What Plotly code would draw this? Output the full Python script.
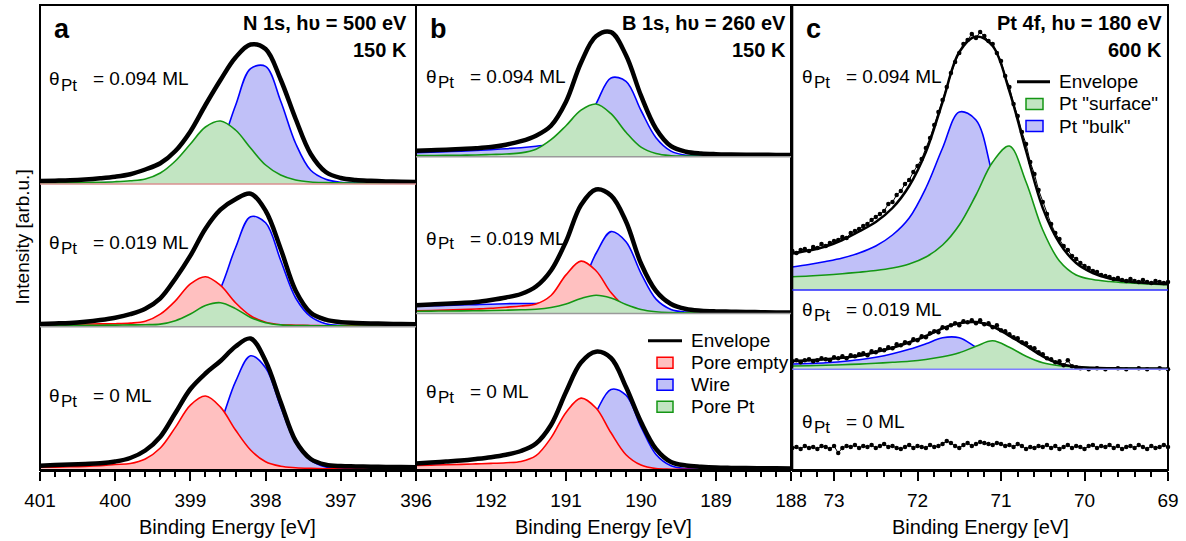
import plotly.graph_objects as go

W, H = 1186, 541
FONT = "Liberation Sans, Arial, sans-serif"

# ---------------- data (intensities, arb. units) ----------------
a_energy = [401.0, 400.8, 400.6, 400.4, 400.2, 400.0, 399.8, 399.6, 399.4, 399.2, 399.0, 398.8, 398.6,
            398.4, 398.2, 398.0, 397.8, 397.6, 397.4, 397.2, 397.0, 396.8, 396.6, 396.4, 396.2, 396.0]
a_top_env = [3.0, 3.3, 3.7, 4.5, 5.7, 7.3, 9.8, 14.5, 20.7, 33.0, 52.6, 79.0, 104.0,
             126.5, 139.5, 135.0, 104.5, 65.0, 30.0, 12.0, 6.0, 4.0, 3.2, 2.6, 2.2, 2.0]
a_top_wire = [1.0, 1.0, 1.1, 1.2, 1.3, 1.4, 1.5, 1.6, 1.7, 1.8, 4.2, 12.0, 37.0,
              78.5, 115.4, 117.6, 83.0, 40.5, 13.7, 4.7, 1.7, 1.2, 1.0, 0.9, 0.8, 0.8]
a_top_porept = [1.0, 1.1, 1.3, 1.5, 1.8, 2.3, 3.2, 5.0, 11.0, 23.0, 40.0, 57.0, 63.0,
                54.0, 36.0, 19.0, 9.0, 4.0, 2.0, 1.4, 1.1, 0.9, 0.8, 0.7, 0.6, 0.5]
a_mid_env = [2.7, 3.2, 3.8, 5.0, 6.7, 9.0, 12.5, 18.0, 28.4, 48.0, 71.0, 98.0, 117.0,
             127.5, 133.0, 116.0, 78.0, 36.0, 14.0, 7.0, 4.5, 3.8, 3.3, 2.9, 2.6, 2.4]
a_mid_empty = [2.4, 2.5, 2.6, 2.7, 2.8, 3.0, 3.6, 5.4, 12.5, 25.8, 42.8, 50.0, 41.3,
               24.0, 11.0, 4.5, 2.0, 1.5, 1.2, 1.0, 0.9, 0.8, 0.7, 0.6, 0.5, 0.5]
a_mid_wire = [1.0, 1.0, 1.1, 1.2, 1.3, 1.4, 1.5, 1.6, 1.7, 1.8, 4.3, 12.6, 38.4,
              79.0, 110.0, 104.0, 66.5, 28.7, 10.0, 3.0, 1.2, 1.0, 0.9, 0.8, 0.8, 0.8]
a_mid_porept = [1.1, 1.2, 1.3, 1.4, 1.5, 1.6, 1.8, 2.0, 2.6, 6.0, 12.7, 21.2, 24.0,
                18.1, 9.3, 4.0, 1.8, 1.2, 1.0, 0.9, 0.8, 0.7, 0.6, 0.5, 0.5, 0.5]
a_bot_env = [4.3, 4.9, 5.4, 6.0, 6.7, 8.5, 12.0, 19.5, 33.3, 57.0, 81.0, 96.5, 109.0,
             123.5, 131.5, 109.0, 68.0, 29.0, 11.0, 5.3, 3.9, 3.6, 3.3, 3.1, 2.9, 2.7]
a_bot_empty = [2.7, 2.9, 3.2, 3.6, 4.3, 5.5, 6.5, 11.0, 22.0, 42.6, 64.9, 74.0, 62.9,
               40.0, 20.0, 8.2, 3.8, 2.3, 1.6, 1.2, 1.0, 0.9, 0.8, 0.7, 0.6, 0.6]
a_bot_wire = [1.0, 1.1, 1.2, 1.3, 1.4, 1.5, 1.6, 1.7, 1.9, 2.3, 6.0, 17.5, 47.2,
              88.3, 114.2, 102.2, 63.3, 27.1, 9.7, 3.0, 1.5, 1.1, 1.0, 0.9, 0.8, 0.8]

b_energy = [193.0, 192.8, 192.6, 192.4, 192.2, 192.0, 191.8, 191.6, 191.4, 191.2, 191.0, 190.8, 190.6,
            190.4, 190.2, 190.0, 189.8, 189.6, 189.4, 189.2, 189.0, 188.8, 188.6, 188.4, 188.2, 188.0]
b_top_env = [6.0, 6.5, 7.0, 7.7, 8.4, 9.6, 12.0, 15.5, 21.0, 31.0, 55.0, 94.0, 120.5,
             124.5, 101.5, 61.0, 28.0, 10.5, 5.0, 3.2, 2.5, 2.2, 2.0, 1.9, 1.8, 1.7]
b_top_wire = [4.0, 4.5, 5.0, 5.5, 6.2, 7.0, 8.0, 9.0, 10.5, 12.5, 17.0, 27.0, 52.9,
              78.8, 75.4, 46.2, 19.0, 5.6, 1.5, 1.0, 0.8, 0.7, 0.6, 0.5, 0.5, 0.5]
b_top_porept = [1.1, 1.2, 1.3, 1.5, 1.7, 2.2, 2.7, 3.8, 7.5, 17.0, 31.0, 46.5, 52.7,
                43.0, 24.4, 9.5, 3.1, 1.0, 0.7, 0.6, 0.5, 0.5, 0.5, 0.5, 0.5, 0.5]
b_mid_env = [8.3, 9.0, 9.7, 10.5, 11.5, 13.5, 16.0, 19.5, 27.0, 43.0, 72.0, 108.5, 124.0,
             118.0, 92.0, 50.0, 22.5, 9.5, 4.5, 2.8, 2.1, 1.8, 1.5, 1.3, 1.1, 1.0]
b_mid_empty = [2.7, 3.0, 3.4, 3.9, 4.5, 5.2, 6.3, 7.5, 9.5, 18.0, 38.6, 52.4, 42.8,
               20.9, 6.2, 1.5, 0.8, 0.6, 0.5, 0.4, 0.4, 0.4, 0.4, 0.4, 0.4, 0.4]
b_mid_wire = [7.3, 7.7, 8.1, 8.5, 8.9, 9.3, 9.8, 10.0, 10.0, 11.0, 14.0, 28.2, 60.0,
              81.9, 71.7, 40.2, 14.4, 4.1, 1.5, 1.0, 0.8, 0.7, 0.6, 0.5, 0.5, 0.5]
b_mid_porept = [2.3, 2.4, 2.5, 2.6, 2.8, 3.0, 3.3, 3.7, 4.3, 6.0, 9.5, 15.0, 18.3,
                15.5, 9.0, 4.0, 1.8, 1.0, 0.7, 0.6, 0.5, 0.5, 0.5, 0.5, 0.5, 0.5]
b_bot_env = [6.6, 7.5, 8.5, 9.5, 11.0, 12.8, 15.3, 19.0, 26.5, 45.0, 78.0, 107.5, 118.3,
             112.0, 83.0, 48.0, 21.0, 8.0, 4.5, 3.2, 2.4, 2.1, 1.9, 1.8, 1.7, 1.6]
b_bot_empty = [4.6, 4.9, 5.2, 5.6, 6.1, 6.6, 7.3, 8.5, 14.3, 32.1, 57.6, 71.9, 62.0,
               37.2, 15.3, 4.9, 1.4, 0.8, 0.6, 0.5, 0.4, 0.4, 0.4, 0.4, 0.4, 0.4]
b_bot_wire = [4.4, 4.6, 4.8, 5.0, 5.3, 5.6, 6.0, 6.5, 7.5, 9.0, 12.0, 28.0, 57.8,
              80.6, 74.8, 43.2, 15.5, 4.2, 1.4, 0.9, 0.7, 0.6, 0.5, 0.5, 0.5, 0.5]

c_energy = [73.5, 73.3, 73.1, 72.9, 72.7, 72.5, 72.3, 72.1, 71.9, 71.7, 71.5, 71.3,
            71.1, 70.9, 70.7, 70.5, 70.3, 70.1, 69.9, 69.7, 69.5, 69.3, 69.1, 69.0]
c_top_env = [36.5, 39.5, 43.5, 50.0, 58.5, 68.0, 82.0, 104.0, 138.0, 188.0, 238.0, 253.5,
             244.0, 199.0, 139.0, 82.0, 47.0, 27.0, 17.0, 11.5, 8.8, 7.3, 6.3, 6.0]
c_top_bulk = [23.0, 25.5, 28.5, 32.0, 37.0, 44.0, 55.0, 72.0, 102.0, 142.0, 178.0, 170.0,
              115.0, 62.0, 30.0, 16.0, 9.0, 6.0, 4.5, 3.5, 3.0, 2.5, 2.2, 2.0]
c_top_surface = [13.3, 14.0, 15.0, 16.3, 17.8, 19.5, 22.0, 26.0, 33.0, 45.0, 65.0, 95.0,
                 128.0, 144.0, 108.0, 60.0, 29.0, 15.0, 10.5, 8.5, 7.2, 6.2, 5.5, 5.2]
c_mid_env = [8.3, 9.0, 10.0, 11.5, 13.5, 17.3, 21.5, 27.0, 33.3, 41.0, 46.0, 47.2,
             42.8, 33.5, 23.5, 13.0, 5.5, 2.5, 1.5, 1.1, 0.9, 0.8, 0.7, 0.6]
c_mid_bulk = [5.3, 5.8, 6.5, 7.8, 9.5, 12.0, 15.5, 20.0, 25.5, 31.5, 31.5, 22.0,
              12.0, 6.0, 3.5, 2.2, 1.5, 1.1, 0.9, 0.8, 0.7, 0.6, 0.6, 0.5]
c_mid_surface = [3.3, 3.6, 4.0, 4.6, 5.2, 6.0, 7.0, 8.0, 9.8, 12.5, 16.5, 23.0,
                 28.5, 22.0, 13.0, 6.5, 3.5, 2.3, 1.6, 1.2, 1.0, 0.8, 0.7, 0.6]

c_dot_energy = [73.50, 73.45, 73.40, 73.35, 73.30, 73.25, 73.20, 73.15, 73.10, 73.05,
                73.00, 72.95, 72.90, 72.85, 72.80, 72.75, 72.70, 72.65, 72.60, 72.55,
                72.50, 72.45, 72.40, 72.35, 72.30, 72.25, 72.20, 72.15, 72.10, 72.05,
                72.00, 71.95, 71.90, 71.85, 71.80, 71.75, 71.70, 71.65, 71.60, 71.55,
                71.50, 71.45, 71.40, 71.35, 71.30, 71.25, 71.20, 71.15, 71.10, 71.05,
                71.00, 70.95, 70.90, 70.85, 70.80, 70.75, 70.70, 70.65, 70.60, 70.55,
                70.50, 70.45, 70.40, 70.35, 70.30, 70.25, 70.20, 70.15, 70.10, 70.05,
                70.00, 69.95, 69.90, 69.85, 69.80, 69.75, 69.70, 69.65, 69.60, 69.55,
                69.50, 69.45, 69.40, 69.35, 69.30, 69.25, 69.20, 69.15, 69.10, 69.05,
                69.00]
c_top_dots = [39, 37, 40, 41, 39, 43, 42, 46, 44, 47,
              49, 50, 53, 52, 57, 59, 61, 64, 66, 70,
              73, 76, 79, 86, 88, 95, 99, 106, 110, 118,
              124, 131, 142, 152, 165, 178, 190, 203, 217, 228,
              237, 246, 250, 256, 252, 258, 254, 249, 246, 237,
              229, 214, 203, 186, 174, 158, 146, 128, 116, 100,
              88, 76, 66, 57, 51, 44, 40, 34, 31, 27,
              24, 22, 19, 18, 15, 14, 13, 11, 12, 10,
              9, 11, 9, 8, 10, 8, 7, 9, 8, 7,
              8]
c_mid_dots = [8, 9, 7, 9, 10, 8, 9, 11, 10, 9,
              12, 11, 13, 11, 14, 13, 15, 16, 14, 18,
              17, 20, 19, 22, 21, 25, 24, 27, 26, 30,
              29, 33, 32, 36, 38, 37, 42, 41, 44, 46,
              44, 48, 47, 49, 46, 49, 45, 46, 42, 44,
              39, 38, 35, 32, 31, 27, 26, 22, 21, 17,
              15, 11, 10, 7, 8, 4, 9, 3, 2, 1,
              -1, 0, -2, 1, -3, 0, -1, -3, 1, -2,
              0, -1, -3, 1, -2, 0, -1, -3, 1, -1,
              0]
c_bot_dots = [22, 23, 21, 24, 22, 23, 21, 24, 23, 21,
              24, 17, 22, 24, 23, 25, 22, 24, 23, 25,
              22, 24, 26, 23, 24, 22, 21, 23, 25, 22,
              24, 23, 22, 25, 23, 24, 26, 29, 27, 24,
              22, 25, 27, 24, 26, 28, 27, 26, 25, 27,
              26, 24, 25, 23, 26, 24, 21, 23, 22, 24,
              23, 25, 22, 24, 21, 23, 25, 22, 24, 23,
              21, 24, 25, 22, 24, 23, 25, 22, 24, 21,
              23, 24, 22, 25, 23, 21, 24, 22, 23, 25,
              23]

a_ticks = [401, 400, 399, 398, 397, 396]
b_ticks = [193, 192, 191, 190, 189, 188]
b_ticktext = ["", "192", "191", "190", "189", "188"]
c_ticks = [73, 72, 71, 70, 69]

coverage_labels = ["0.094", "0.019", "0"]
legend_b = ["Envelope", "Pore empty", "Wire", "Pore Pt"]
legend_c = ["Envelope", 'Pt "surface"', 'Pt "bulk"']

# ---------------- styling ----------------
RED = ("#ff0000", "#ffc0c0")
BLUE = ("#0000ff", "#c0c0f8")
GREEN = ("#149614", "#c2e5c2")


def fx(p):
    return p / W


def fy(p):
    return 1 - p / H


cols = {
    "a": dict(x0=40, x1=416, xa="x", rows=[(5, 184), (184, 326.7), (326.7, 470)], yids=["y", "y2", "y3"]),
    "b": dict(x0=416, x1=791, xa="x2", rows=[(5, 156.7), (156.7, 313.5), (313.5, 470)], yids=["y4", "y5", "y6"]),
    "c": dict(x0=792.3, x1=1168, xa="x3", rows=[(5, 290), (290, 369.3), (369.3, 470)], yids=["y7", "y8", "y9"]),
}

fig = go.Figure()


def comp(x, y, xa, ya, colors, width=1.6):
    fig.add_trace(go.Scatter(x=x, y=y, xaxis=xa, yaxis=ya, mode="lines",
                             line=dict(color=colors[0], width=width, shape="spline"),
                             fill="tozeroy", fillcolor=colors[1], showlegend=False, hoverinfo="skip"))


def env(x, y, xa, ya, width=4.5):
    fig.add_trace(go.Scatter(x=x, y=y, xaxis=xa, yaxis=ya, mode="lines",
                             line=dict(color="black", width=width, shape="spline"),
                             showlegend=False, hoverinfo="skip"))


def dots(x, y, xa, ya):
    fig.add_trace(go.Scatter(x=x, y=y, xaxis=xa, yaxis=ya, mode="lines+markers",
                             line=dict(color="black", width=1),
                             marker=dict(color="black", size=4.5), cliponaxis=False,
                             showlegend=False, hoverinfo="skip"))


# panel a
comp(a_energy, a_top_wire, "x", "y", BLUE)
comp(a_energy, a_top_porept, "x", "y", GREEN)
env(a_energy, a_top_env, "x", "y")
comp(a_energy, a_mid_wire, "x", "y2", BLUE)
comp(a_energy, a_mid_empty, "x", "y2", RED)
comp(a_energy, a_mid_porept, "x", "y2", GREEN)
env(a_energy, a_mid_env, "x", "y2")
comp(a_energy, a_bot_wire, "x", "y3", BLUE)
comp(a_energy, a_bot_empty, "x", "y3", RED)
env(a_energy, a_bot_env, "x", "y3")
# panel b
comp(b_energy, b_top_wire, "x2", "y4", BLUE)
comp(b_energy, b_top_porept, "x2", "y4", GREEN)
env(b_energy, b_top_env, "x2", "y4")
comp(b_energy, b_mid_wire, "x2", "y5", BLUE)
comp(b_energy, b_mid_empty, "x2", "y5", RED)
comp(b_energy, b_mid_porept, "x2", "y5", GREEN)
env(b_energy, b_mid_env, "x2", "y5")
comp(b_energy, b_bot_wire, "x2", "y6", BLUE)
comp(b_energy, b_bot_empty, "x2", "y6", RED)
env(b_energy, b_bot_env, "x2", "y6")
# panel c
comp(c_energy, c_top_bulk, "x3", "y7", BLUE)
comp(c_energy, c_top_surface, "x3", "y7", GREEN)
env(c_energy, c_top_env, "x3", "y7", width=2.5)
dots(c_dot_energy, c_top_dots, "x3", "y7")
comp(c_energy, c_mid_bulk, "x3", "y8", BLUE)
comp(c_energy, c_mid_surface, "x3", "y8", GREEN)
env(c_energy, c_mid_env, "x3", "y8", width=2.5)
dots(c_dot_energy, c_mid_dots, "x3", "y8")
dots(c_dot_energy, c_bot_dots, "x3", "y9")

layout = dict(width=W, height=H, margin=dict(l=0, r=0, t=0, b=0, autoexpand=False),
              paper_bgcolor="white", plot_bgcolor="rgba(0,0,0,0)", showlegend=False,
              font=dict(family=FONT, size=19, color="black"))

xranges = {"a": [401, 396], "b": [193, 188], "c": [73.5, 69]}
xticks = {"a": (a_ticks, [str(t) for t in a_ticks]), "b": (b_ticks, b_ticktext),
          "c": (c_ticks, [str(t) for t in c_ticks])}
for key, col in cols.items():
    xname = "xaxis" if col["xa"] == "x" else "xaxis" + col["xa"][1:]
    layout[xname] = dict(domain=[fx(col["x0"]), fx(col["x1"])], range=xranges[key],
                         anchor=col["yids"][2], showgrid=False, zeroline=False, automargin=False,
                         showline=True, linewidth=2, linecolor="black",
                         ticks="outside", ticklen=9, tickwidth=2, tickcolor="black",
                         tickvals=xticks[key][0], ticktext=xticks[key][1], ticklabelstandoff=3,
                         tickfont=dict(size=19, family=FONT),
                         minor=dict(dtick=0.2, tick0=0, ticks="outside", ticklen=5, tickwidth=1.5,
                                    tickcolor="black", showgrid=False),
                         fixedrange=True)
    for (top, bot), yid in zip(col["rows"], col["yids"]):
        yname = "yaxis" if yid == "y" else "yaxis" + yid[1:]
        layout[yname] = dict(domain=[fy(bot), fy(top)], range=[0, bot - top], visible=False,
                             automargin=False, anchor=col["xa"], fixedrange=True)

shapes = []
for key, col in cols.items():
    shapes.append(dict(type="rect", xref="paper", yref="paper", x0=fx(col["x0"]), x1=fx(col["x1"]),
                       y0=fy(470), y1=fy(5), line=dict(color="black", width=2)))
sep_colors = {"a": ["#d89090", "#9a9a9a"], "b": ["#9a9a9a", "#9a9a9a"], "c": ["#2a2aff", "#8080ff"]}
for key, col in cols.items():
    for i in range(2):
        yb = col["rows"][i][1]
        shapes.append(dict(type="line", xref="paper", yref="paper", x0=fx(col["x0"]), x1=fx(col["x1"]),
                           y0=fy(yb), y1=fy(yb), line=dict(color=sep_colors[key][i], width=1.5)))

ann = []


def text(t, x, y, size=19, xanchor="left", bold=False, angle=0):
    ann.append(dict(text=t, x=fx(x), y=fy(y), xref="paper", yref="paper",
                    xanchor=xanchor, yanchor="middle", showarrow=False, textangle=angle,
                    font=dict(size=size, family=FONT, color="black",
                              weight="bold" if bold else "normal")))


# manual legends (swatch line / boxes + labels)
def legend_block(names, styles, x_line, x_box, x_text, y0, dy):
    for i, (name, st) in enumerate(zip(names, styles)):
        y = y0 + i * dy
        if st is None:
            shapes.append(dict(type="line", xref="paper", yref="paper", x0=fx(x_line[0]), x1=fx(x_line[1]),
                               y0=fy(y), y1=fy(y), line=dict(color="black", width=3)))
        else:
            shapes.append(dict(type="rect", xref="paper", yref="paper", x0=fx(x_box[0]), x1=fx(x_box[1]),
                               y0=fy(y + 5.5), y1=fy(y - 5.5), fillcolor=st[1],
                               line=dict(color=st[0], width=1.5)))
        text(name, x_text, y, size=19)


legend_block(legend_b, [None, RED, BLUE, GREEN], (648, 682), (657, 673), 689, 340.7, 22)
legend_block(legend_c, [None, GREEN, BLUE], (1017, 1050), (1026, 1043), 1057, 81.7, 22.2)

text("Intensity [arb.u.]", 22, 237.5, size=19, xanchor="center", angle=-90)
for key, col in cols.items():
    text("Binding Energy [eV]", (col["x0"] + col["x1"]) / 2, 527, size=20, xanchor="center")

text("a", 52, 29, size=27, bold=True)
text("b", 428, 29, size=27, bold=True)
text("c", 804, 29, size=27, bold=True)
text("N 1s, hυ = 500 eV", 409, 23, size=20, xanchor="right", bold=True)
text("150 K", 409, 50, size=20, xanchor="right", bold=True)
text("B 1s, hυ = 260 eV", 788, 23, size=20, xanchor="right", bold=True)
text("150 K", 788, 50, size=20, xanchor="right", bold=True)
text("Pt 4f, hυ = 180 eV", 1164, 23, size=20, xanchor="right", bold=True)
text("600 K", 1164, 50, size=20, xanchor="right", bold=True)

theta_pos = {"a": [(47, 79), (47, 242), (47, 395)],
             "b": [(424, 76), (424, 238), (424, 391)],
             "c": [(800, 76), (800, 309), (800, 421)]}
for key in ["a", "b", "c"]:
    for (x, y), cov in zip(theta_pos[key], coverage_labels):
        text("θ", x, y, size=19)
        text("Pt", x + 12, y + 6, size=17)
        text("= %s ML" % cov, x + 44, y, size=19)

layout["shapes"] = shapes
layout["annotations"] = ann
fig.update_layout(**layout)
fig.write_html("out.html")
